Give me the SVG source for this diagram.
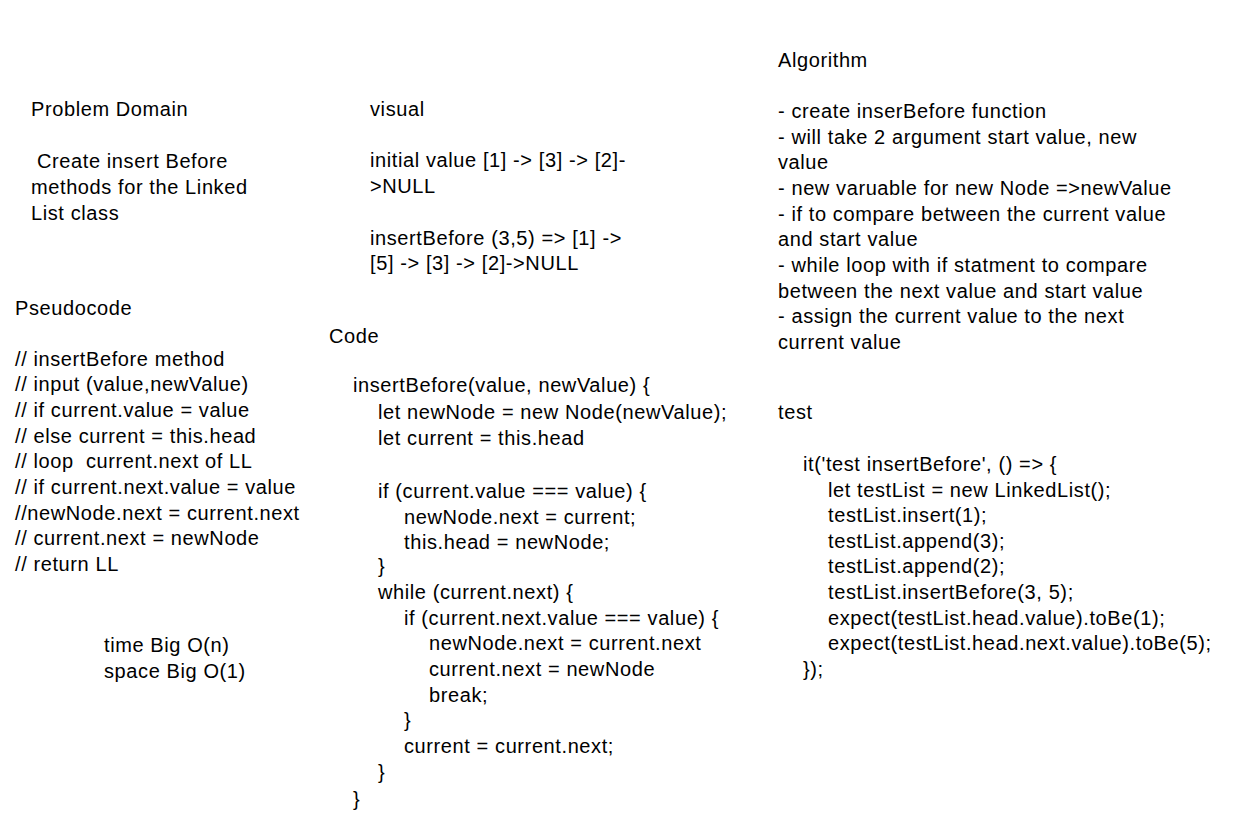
<svg xmlns="http://www.w3.org/2000/svg" width="1245" height="827" viewBox="0 0 1245 827">
<style>
text { font-family: "Liberation Sans", "DejaVu Sans", sans-serif; font-size: 20px; letter-spacing: 0.6px; fill: #000000; }
</style>
<rect width="1245" height="827" fill="#ffffff"/>
<g id="problem-domain">
<text x="31" y="116">Problem Domain</text>
<text x="37" y="168">Create insert Before</text>
<text x="31" y="194">methods for the Linked</text>
<text x="31" y="220">List class</text>
</g>
<g id="pseudocode">
<text x="15" y="315">Pseudocode</text>
<text x="15" y="366">// insertBefore method</text>
<text x="15" y="391">// input (value,newValue)</text>
<text x="15" y="417">// if current.value = value</text>
<text x="15" y="443">// else current = this.head</text>
<text x="15" y="468" xml:space="preserve">// loop  current.next of LL</text>
<text x="15" y="494">// if current.next.value = value</text>
<text x="15" y="520">//newNode.next = current.next</text>
<text x="15" y="545">// current.next = newNode</text>
<text x="15" y="571">// return LL</text>
</g>
<g id="complexity">
<text x="104" y="652">time Big O(n)</text>
<text x="104" y="678">space Big O(1)</text>
</g>
<g id="visual">
<text x="370" y="116">visual</text>
<text x="370" y="167">initial value [1] -&gt; [3] -&gt; [2]-</text>
<text x="370" y="193">&gt;NULL</text>
<text x="370" y="245">insertBefore (3,5) =&gt; [1] -&gt;</text>
<text x="370" y="270">[5] -&gt; [3] -&gt; [2]-&gt;NULL</text>
</g>
<g id="code">
<text x="329" y="343">Code</text>
<text x="353" y="392">insertBefore(value, newValue) {</text>
<text x="378" y="419">let newNode = new Node(newValue);</text>
<text x="378" y="445">let current = this.head</text>
<text x="378" y="498">if (current.value === value) {</text>
<text x="404" y="524">newNode.next = current;</text>
<text x="404" y="549">this.head = newNode;</text>
<text x="378" y="573">}</text>
<text x="378" y="599">while (current.next) {</text>
<text x="404" y="625">if (current.next.value === value) {</text>
<text x="429" y="650">newNode.next = current.next</text>
<text x="429" y="676">current.next = newNode</text>
<text x="429" y="702">break;</text>
<text x="404" y="727">}</text>
<text x="404" y="753">current = current.next;</text>
<text x="378" y="779">}</text>
<text x="353" y="806">}</text>
</g>
<g id="algorithm">
<text x="778" y="67">Algorithm</text>
<text x="778" y="118">- create inserBefore function</text>
<text x="778" y="144">- will take 2 argument start value, new</text>
<text x="778" y="169">value</text>
<text x="778" y="195">- new varuable for new Node =&gt;newValue</text>
<text x="778" y="221">- if to compare between the current value</text>
<text x="778" y="246">and start value</text>
<text x="778" y="272">- while loop with if statment to compare</text>
<text x="778" y="298">between the next value and start value</text>
<text x="778" y="323">- assign the current value to the next</text>
<text x="778" y="349">current value</text>
</g>
<g id="test">
<text x="778" y="419">test</text>
<text x="803" y="471">it('test insertBefore', () =&gt; {</text>
<text x="828" y="497">let testList = new LinkedList();</text>
<text x="828" y="522">testList.insert(1);</text>
<text x="828" y="548">testList.append(3);</text>
<text x="828" y="573">testList.append(2);</text>
<text x="828" y="599">testList.insertBefore(3, 5);</text>
<text x="828" y="625">expect(testList.head.value).toBe(1);</text>
<text x="828" y="650">expect(testList.head.next.value).toBe(5);</text>
<text x="803" y="676">});</text>
</g>
<g id="connectors"></g>
</svg>
